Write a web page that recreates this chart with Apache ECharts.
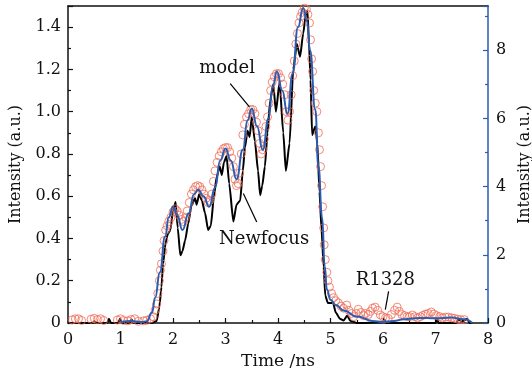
<!DOCTYPE html>
<html>
<head>
<meta charset="utf-8">
<script src="https://cdn.jsdelivr.net/npm/echarts@6/dist/echarts.min.js"></script>
<style>html,body{margin:0;padding:0;background:#fff}#c{width:532px;height:373px}</style>
</head>
<body>
<div id="c"></div>
<script>
// ---- data ----
var xTicks = [0, 1, 2, 3, 4, 5, 6, 7, 8];
var leftTicks = [0, 0.2, 0.4, 0.6, 0.8, 1.0, 1.2, 1.4];
var rightTicks = [0, 2, 4, 6, 8];

// Newfocus detector (black line), left axis
var newfocus = [
[0,0],[0.3,0],[0.47,0],[0.5,0.006],[0.54,0],[0.75,0],[0.78,0.02],[0.82,0],[0.96,0],[0.99,0.02],[1.03,0],
[1.18,0],[1.21,0.016],[1.25,0],[1.6,0],[1.69,0.01],[1.74,0.076],[1.78,0.17],[1.81,0.28],[1.86,0.38],
[1.9,0.42],[1.95,0.44],[2.0,0.53],[2.05,0.573],[2.09,0.45],[2.14,0.32],[2.18,0.34],[2.23,0.39],[2.29,0.47],
[2.35,0.555],[2.42,0.59],[2.45,0.56],[2.5,0.61],[2.55,0.58],[2.61,0.52],[2.67,0.44],[2.72,0.46],[2.78,0.6],
[2.83,0.69],[2.89,0.74],[2.93,0.7],[2.97,0.76],[3.02,0.79],[3.07,0.66],[3.15,0.48],[3.21,0.56],[3.28,0.58],
[3.33,0.72],[3.37,0.83],[3.42,0.91],[3.46,0.88],[3.5,0.975],[3.56,0.86],[3.62,0.72],[3.66,0.605],[3.7,0.65],
[3.75,0.74],[3.8,0.9],[3.85,1.05],[3.91,1.13],[3.96,1.0],[4.03,1.14],[4.1,0.9],[4.15,0.72],[4.22,0.85],
[4.29,1.2],[4.36,1.32],[4.42,1.26],[4.48,1.37],[4.53,1.46],[4.56,1.48],[4.59,1.33],[4.62,1.15],[4.65,0.89],
[4.71,0.93],[4.75,0.85],[4.79,0.62],[4.83,0.44],[4.87,0.265],[4.9,0.13],[4.95,0.095],[5.05,0.095],[5.1,0.05],
[5.18,0.02],[5.25,0.012],[5.32,0.035],[5.38,0.01],[5.5,0],[6.0,0.003],[6.03,0.015],[6.06,0],[7.0,0],
[7.03,0.02],[7.06,0],[7.4,0],[7.44,0.02],[7.5,0.005],[7.6,0.02],[7.65,0],[7.7,0]
];

// R1328 detector (red open circles), left axis
var r1328 = [
[0.08,0.015],[0.14,0.02],[0.2,0.02],[0.26,0.012],[0.44,0.018],[0.5,0.022],[0.56,0.016],[0.62,0.02],[0.68,0.012],
[0.94,0.014],[1.0,0.02],[1.06,0.012],[1.14,0.01],[1.2,0.016],[1.27,0.02],[1.34,0.008],[1.44,0.01],[1.5,0.013],
[1.57,0.02],[1.62,0.03],[1.66,0.06],[1.69,0.09],[1.71,0.14],[1.74,0.2],[1.76,0.25],[1.78,0.28],[1.81,0.34],
[1.83,0.39],[1.86,0.44],[1.89,0.46],[1.92,0.48],[1.96,0.5],[2.0,0.525],[2.04,0.54],[2.08,0.53],[2.12,0.51],
[2.16,0.49],[2.2,0.48],[2.24,0.5],[2.27,0.53],[2.31,0.57],[2.35,0.61],[2.39,0.63],[2.43,0.645],[2.47,0.65],
[2.51,0.645],[2.55,0.63],[2.59,0.61],[2.63,0.59],[2.67,0.57],[2.7,0.58],[2.74,0.61],[2.77,0.67],[2.8,0.72],
[2.84,0.76],[2.88,0.79],[2.92,0.81],[2.96,0.825],[3.0,0.83],[3.04,0.83],[3.08,0.81],[3.12,0.78],[3.15,0.74],
[3.18,0.68],[3.21,0.65],[3.24,0.66],[3.27,0.71],[3.3,0.8],[3.33,0.89],[3.36,0.94],[3.4,0.975],[3.44,0.99],
[3.48,1.01],[3.52,1.01],[3.56,0.99],[3.59,0.95],[3.62,0.91],[3.65,0.85],[3.68,0.8],[3.71,0.82],[3.74,0.87],
[3.77,0.93],[3.8,0.975],[3.83,1.04],[3.86,1.1],[3.89,1.14],[3.93,1.165],[3.97,1.18],[4.01,1.18],[4.05,1.16],
[4.09,1.13],[4.13,1.08],[4.16,1.0],[4.19,0.96],[4.22,1.0],[4.25,1.08],[4.28,1.17],[4.31,1.24],[4.34,1.32],
[4.37,1.37],[4.4,1.42],[4.43,1.45],[4.46,1.47],[4.5,1.49],[4.54,1.485],[4.57,1.46],[4.6,1.42],[4.62,1.34],
[4.64,1.25],[4.66,1.19],[4.68,1.1],[4.71,1.04],[4.74,1.0],[4.77,0.9],[4.79,0.82],[4.81,0.74],[4.83,0.65],
[4.85,0.55],[4.87,0.45],[4.88,0.37],[4.9,0.3],[4.93,0.24],[4.95,0.2],[4.98,0.17],[5.02,0.14],[5.06,0.12],
[5.1,0.105],[5.15,0.095],[5.2,0.08],[5.25,0.07],[5.31,0.085],[5.35,0.06],[5.4,0.045],[5.44,0.03],[5.49,0.045],
[5.53,0.065],[5.58,0.05],[5.63,0.035],[5.67,0.045],[5.72,0.04],[5.76,0.055],[5.8,0.07],[5.85,0.075],[5.9,0.06],
[5.95,0.038],[6.0,0.03],[6.05,0.025],[6.1,0.022],[6.16,0.04],[6.22,0.06],[6.27,0.075],[6.31,0.055],[6.36,0.04],
[6.41,0.035],[6.46,0.03],[6.51,0.03],[6.56,0.038],[6.61,0.03],[6.66,0.024],[6.71,0.03],[6.76,0.036],[6.81,0.042],
[6.86,0.045],[6.92,0.052],[6.97,0.042],[7.02,0.035],[7.08,0.03],[7.13,0.024],[7.19,0.028],[7.25,0.028],
[7.31,0.024],[7.36,0.022],[7.42,0.018],[7.48,0.016],[7.55,0.016]
];

// model (blue line), right axis units
var model = [
[1.0,0.02],[1.2,0.06],[1.4,0.03],[1.5,0.05],[1.6,0.31],[1.66,0.74],[1.75,1.49],[1.85,2.54],[1.92,3.1],[2.0,3.41],
[2.08,3.16],[2.18,2.73],[2.3,3.22],[2.4,3.78],[2.48,3.91],[2.58,3.72],[2.69,3.41],[2.8,3.97],[2.9,4.77],[3.0,5.12],
[3.1,4.77],[3.21,4.22],[3.33,5.08],[3.42,5.95],[3.5,6.29],[3.6,5.77],[3.71,5.08],[3.82,6.01],[3.9,6.94],[3.98,7.38],
[4.08,6.82],[4.18,6.14],[4.28,7.32],[4.38,8.68],[4.48,9.24],[4.55,8.87],[4.61,8.0],[4.71,6.26],[4.77,4.59],
[4.84,3.1],[4.89,1.67],[4.93,0.99],[5.0,0.68],[5.1,0.53],[5.25,0.37],[5.5,0.19],[5.8,0.06],[6.0,0.03],[6.2,0.06],
[6.4,0.11],[6.7,0.15],[7.0,0.14],[7.3,0.16],[7.55,0.11],[7.7,0]
];

// annotations: [label, text position, arrow tail, arrow head] in data coordinates (left axis)
var notes = [
  ['model',    [3.03, 1.205], [3.09, 1.133], [3.455, 1.023]],
  ['Newfocus', [3.735, 0.395], [3.595, 0.478], [3.34, 0.613]],
  ['R1328',    [6.044, 0.2],  [6.107, 0.15],  [6.044, 0.063]]
];

var FONT = 'DejaVu Serif';
var BLUE = '#2a5db0';
var chart = echarts.init(document.getElementById('c'), null, {renderer: 'canvas'});

var markLineData = notes.map(function (n) {
  return [{coord: n[2]}, {coord: n[3]}];
});
var markPointData = notes.map(function (n) {
  return {coord: n[1], label: {formatter: n[0]}};
});

chart.setOption({
  animation: false,
  backgroundColor: '#fff',
  grid: {left: 68, right: 44, top: 6, bottom: 50, outerBoundsMode: 'none', containLabel: false},
  xAxis: [{
    type: 'value', min: xTicks[0], max: xTicks[xTicks.length - 1], interval: 1,
    name: 'Time /ns', nameLocation: 'middle', nameGap: 26,
    nameTextStyle: {fontFamily: FONT, fontSize: 17, color: '#111'},
    axisLine: {show: true, onZero: false, lineStyle: {color: '#111', width: 1.5}},
    axisTick: {show: true, inside: true, length: 5, lineStyle: {color: '#111', width: 1.2}},
    minorTick: {show: true, splitNumber: 2, length: 3, lineStyle: {color: '#111', width: 1.2}},
    axisLabel: {fontFamily: FONT, fontSize: 16, color: '#111', margin: 9},
    splitLine: {show: false}
  }, {
    type: 'value', position: 'top', min: 0, max: 8,
    axisLine: {show: true, onZero: false, lineStyle: {color: '#111', width: 1.5}},
    axisTick: {show: false}, axisLabel: {show: false}, splitLine: {show: false}
  }],
  yAxis: [{
    type: 'value', position: 'left', min: leftTicks[0], max: 1.5, interval: 0.2,
    name: 'Intensity (a.u.)', nameLocation: 'middle', nameGap: 44, nameRotate: 90,
    nameTextStyle: {fontFamily: FONT, fontSize: 16, color: '#111'},
    axisLine: {show: true, onZero: false, lineStyle: {color: '#111', width: 1.5}},
    axisTick: {show: true, inside: true, length: 5, lineStyle: {color: '#111', width: 1.2}},
    minorTick: {show: true, splitNumber: 2, length: 3, lineStyle: {color: '#111', width: 1.2}},
    axisLabel: {fontFamily: FONT, fontSize: 16, color: '#111', margin: 7, showMaxLabel: false,
      formatter: function (v) { return v === 0 ? '0' : v.toFixed(1); }},
    splitLine: {show: false}
  }, {
    type: 'value', position: 'right', min: rightTicks[0], max: 9.3, interval: 2,
    name: 'Intensity (a.u.)', nameLocation: 'middle', nameGap: 20, nameRotate: 90,
    nameTextStyle: {fontFamily: FONT, fontSize: 16, color: '#111'},
    axisLine: {show: true, onZero: false, lineStyle: {color: BLUE, width: 1.5}},
    axisTick: {show: true, inside: true, length: 5, lineStyle: {color: BLUE, width: 1.2}},
    minorTick: {show: true, splitNumber: 2, length: 3, lineStyle: {color: BLUE, width: 1.2}},
    axisLabel: {fontFamily: FONT, fontSize: 16, color: '#111', margin: 8, showMaxLabel: false},
    splitLine: {show: false}
  }],
  series: [{
    name: 'Newfocus', type: 'line', data: newfocus, xAxisIndex: 0, yAxisIndex: 0,
    showSymbol: false, smooth: 0.2, smoothMonotone: 'x', z: 2,
    lineStyle: {color: '#000', width: 2}, itemStyle: {color: '#000'},
    markLine: {
      silent: true, symbol: ['none', 'arrow'], symbolSize: [0, 9],
      label: {show: false},
      lineStyle: {color: '#000', width: 1.2, type: 'solid'},
      data: markLineData
    },
    markPoint: {
      silent: true, symbol: 'circle', symbolSize: 1,
      itemStyle: {color: 'rgba(0,0,0,0)'},
      label: {show: true, position: 'inside', fontFamily: FONT, fontSize: 18, color: '#111'},
      data: markPointData
    }
  }, {
    name: 'R1328', type: 'scatter', data: r1328, xAxisIndex: 0, yAxisIndex: 0,
    symbol: 'circle', symbolSize: 8, z: 3,
    itemStyle: {color: 'rgba(0,0,0,0)', borderColor: '#ef6b58', borderWidth: 1}
  }, {
    name: 'model', type: 'line', data: model, xAxisIndex: 0, yAxisIndex: 1,
    showSymbol: false, smooth: 0.5, smoothMonotone: 'x', z: 4,
    lineStyle: {color: BLUE, width: 2}, itemStyle: {color: BLUE}
  }]
});
</script>
</body>
</html>
